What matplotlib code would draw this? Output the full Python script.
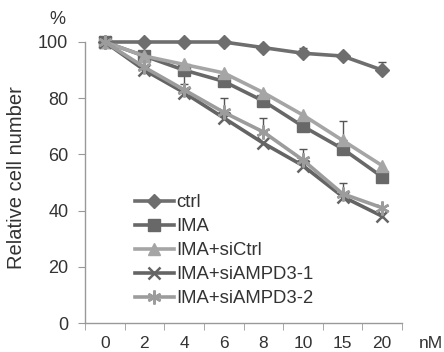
import matplotlib
matplotlib.use("Agg")
import matplotlib.pyplot as plt
import numpy as np

plt.rcParams['font.family'] = ['Liberation Sans', 'DejaVu Sans']

categories = ["0", "2", "4", "6", "8", "10", "15", "20"]
ctrl = [100, 100, 100, 100, 98, 96, 95, 90]
ima = [100, 95, 90, 86, 79, 70, 62, 52]
ima_sictrl = [100, 95, 92, 89, 82, 74, 65, 56]
ima_siampd3_1 = [100, 90, 82, 73, 64, 56, 45, 38]
ima_siampd3_2 = [100, 91, 83, 75, 68, 58, 46, 41]

# one-sided error bars
ctrl_err_up = [0, 0, 0, 0, 0, 2, 0, 3]
ima_err_dn = [0, 0, 5, 0, 0, 0, 0, 0]
sictrl_err_up = [0, 0, 0, 0, 0, 0, 7, 0]
s2_err_up = [0, 0, 0, 5, 5, 4, 4, 0]

fig = plt.figure(figsize=(4.44, 3.52), dpi=100)
ax = fig.add_axes([85/444, 1 - 323/352, 317/444, 281/352])
x = np.arange(len(categories))

series = [
    ("ctrl", ctrl, "#6e6e6e", "D", 7),
    ("IMA", ima, "#686868", "s", 9),
    ("IMA+siCtrl", ima_sictrl, "#a5a5a5", "^", 9),
    ("IMA+siAMPD3-1", ima_siampd3_1, "#646464", "x", 9),
    ("IMA+siAMPD3-2", ima_siampd3_2, "#9c9c9c", (6, 2, 0), 10),
]

def errs(vals, up=None, dn=None):
    n = len(vals)
    up = up or [0] * n
    dn = dn or [0] * n
    xs = [i for i in range(n) if up[i] or dn[i]]
    ys = [vals[i] for i in xs]
    ax.errorbar(xs, ys, yerr=[[dn[i] for i in xs], [up[i] for i in xs]],
                fmt='none', ecolor='#555555', elinewidth=1, capsize=3, capthick=1,
                zorder=1, clip_on=False)

errs(ctrl, up=ctrl_err_up)
errs(ima, dn=ima_err_dn)
errs(ima_sictrl, up=sictrl_err_up)
errs(ima_siampd3_2, up=s2_err_up)

for label, vals, col, mk, ms in series:
    mew = 1.8 if mk in ("x", (6, 2, 0)) else 1
    ax.plot(x, vals, color=col, lw=2.6, marker=mk, ms=ms, mew=mew,
            mec=col, mfc=col, label=label, clip_on=False, zorder=3)

ax.set_xlim(-0.5, len(categories) - 0.5)
ax.set_ylim(0, 100)
ax.set_yticks([0, 20, 40, 60, 80, 100])
ax.set_xticks(x)
ax.set_xticklabels(categories)
ax.set_xticks(np.arange(-0.5, len(categories)), minor=True)
ax.tick_params(axis='x', which='major', length=0, labelsize=12.5, pad=9, colors='#333333')
ax.tick_params(axis='x', which='minor', length=5, color='#999999', direction='out')
ax.tick_params(axis='y', which='major', length=5, color='#999999', labelsize=13,
               labelcolor='#333333', pad=7)
for s in ['top', 'right']:
    ax.spines[s].set_visible(False)
for s in ['left', 'bottom']:
    ax.spines[s].set_color('#999999')
    ax.spines[s].set_linewidth(1)

fig.text(17/444, 1 - 178/352, "Relative cell number", fontsize=14.5, color='#333333',
         rotation=90, ha='center', va='center')
fig.text(57/444, 1 - 20/352, "%", fontsize=13, color='#333333', ha='center', va='center')
fig.text(431/444, 1 - 343/352, "nM", fontsize=12.5, color='#333333', ha='center', va='center')

leg = ax.legend(loc='upper left', bbox_to_anchor=(135/444, 1 - 194/352),
                bbox_transform=fig.transFigure, frameon=False,
                fontsize=13.3, handlelength=2.1, handletextpad=0.12, labelspacing=0.38,
                borderaxespad=0, borderpad=0)
for t in leg.get_texts():
    t.set_color('#333333')

fig.savefig("out.png", dpi=100)
